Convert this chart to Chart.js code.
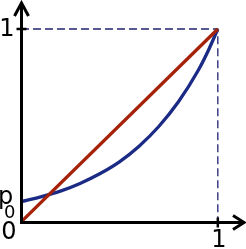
<!DOCTYPE html>
<html>
<head>
<meta charset="utf-8">
<script src="https://cdn.jsdelivr.net/npm/chart.js@4"></script>
<style>
  html, body { margin: 0; padding: 0; background: #fff; }
  #wrap { width: 246px; height: 249px; }
</style>
</head>
<body>
<div id="wrap"><canvas id="myCanvas" width="246" height="249"></canvas></div>
<script>
// values
var curveX = [0, 0.1, 0.2, 0.3, 0.4, 0.5, 0.6, 0.7, 0.8, 0.9, 0.95, 1];
var curveY = [0.105, 0.13, 0.16, 0.2, 0.25, 0.312, 0.393, 0.495, 0.623, 0.785, 0.885, 1];
var diagX = [0, 1];
var diagY = [0, 1];
var guideX = [0, 1, 1];
var guideY = [1, 1, 0];
var xTicks = ["0", "1"];
var yTicks = ["1"];

function pts(xs, ys) {
  var out = [];
  for (var i in xs) {
    out.push({ x: xs[i], y: ys[i] });
  }
  return out;
}

var axesPlugin = {
  id: "axes",
  afterDatasetsDraw: function (chart) {
    var ctx = chart.ctx;
    var xs = chart.scales.x;
    var ys = chart.scales.y;
    // snap to half pixels so the 3px axes come out crisp
    var x0 = Math.round(xs.getPixelForValue(0)) + 0.5;
    var y0 = Math.round(ys.getPixelForValue(0)) + 0.5;
    var x1 = xs.getPixelForValue(1);
    var y1 = ys.getPixelForValue(1);
    var top = chart.chartArea.top;
    var right = chart.chartArea.right;

    ctx.save();
    ctx.strokeStyle = "#000";
    ctx.lineWidth = 3;
    ctx.lineCap = "butt";
    ctx.lineJoin = "miter";

    // axes
    ctx.beginPath();
    ctx.moveTo(x0, y0 + 1.5);
    ctx.lineTo(x0, top + 1);
    ctx.moveTo(x0 - 1.5, y0);
    ctx.lineTo(right - 1, y0);
    ctx.stroke();

    // arrow heads
    ctx.beginPath();
    ctx.moveTo(x0 - 7, top + 14);
    ctx.lineTo(x0, top + 1);
    ctx.lineTo(x0 + 7, top + 14);
    ctx.moveTo(right - 11, y0 - 7);
    ctx.lineTo(right, y0);
    ctx.lineTo(right - 11, y0 + 7);
    ctx.stroke();

    // tick marks at 1
    ctx.lineWidth = 2.5;
    ctx.beginPath();
    ctx.moveTo(x0 - 5, y1);
    ctx.lineTo(x0 + 5, y1);
    ctx.moveTo(x1, y0 - 5);
    ctx.lineTo(x1, y0 + 5);
    ctx.stroke();

    // labels
    ctx.fillStyle = "#000";
    ctx.font = "24px 'DejaVu Sans'";
    ctx.textAlign = "center";
    ctx.textBaseline = "middle";
    ctx.fillText(yTicks[0], 7, y1 + 1);
    ctx.fillText(xTicks[0], 9, y0 + 10);
    ctx.fillText(xTicks[1], x1 + 1, y0 + 18);

    // p0 label
    var p0y = ys.getPixelForValue(curveY[0]);
    ctx.textAlign = "left";
    ctx.textBaseline = "alphabetic";
    ctx.fillText("p", -2, p0y + 2);
    ctx.font = "18px 'DejaVu Sans'";
    ctx.fillText("0", 4, p0y + 16);
    ctx.restore();
  }
};

var ctx = document.getElementById("myCanvas");

var chart = new Chart(ctx, {
  type: "line",
  data: {
    datasets: [
      {
        label: "guide",
        data: pts(guideX, guideY),
        borderColor: "#222270",
        borderWidth: 1.3,
        borderDash: [8, 4],
        pointRadius: 0,
        tension: 0,
        order: 3
      },
      {
        label: "curve",
        data: pts(curveX, curveY),
        borderColor: "#1b2b85",
        borderWidth: 3.3,
        pointRadius: 0,
        cubicInterpolationMode: "monotone",
        order: 2
      },
      {
        label: "diagonal",
        data: pts(diagX, diagY),
        borderColor: "#a52208",
        borderWidth: 3.3,
        pointRadius: 0,
        tension: 0,
        order: 1
      }
    ]
  },
  options: {
    responsive: false,
    animation: false,
    events: [],
    layout: { padding: { left: 21, right: 2, top: 2, bottom: 27 } },
    plugins: { legend: { display: false }, tooltip: { enabled: false } },
    scales: {
      x: { type: "linear", min: 0, max: 1.133, display: false },
      y: { type: "linear", min: 0, max: 1.14, display: false }
    }
  },
  plugins: [axesPlugin]
});
</script>
</body>
</html>
